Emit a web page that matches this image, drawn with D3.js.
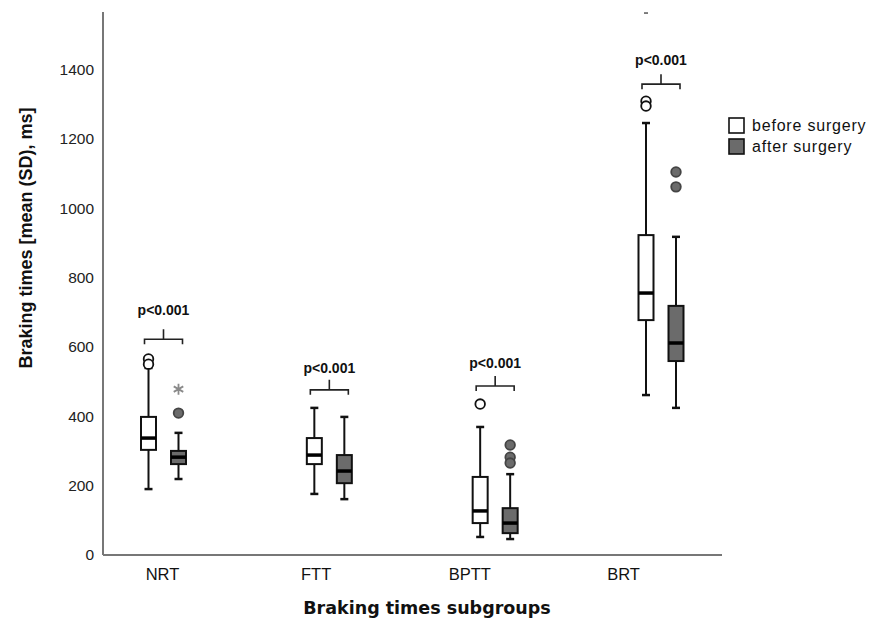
<!DOCTYPE html>
<html>
<head>
<meta charset="utf-8">
<script src="https://cdn.jsdelivr.net/npm/d3@7"></script>
<style>
  body { margin: 0; background: #fff; }
  .tick text { font-family: "Liberation Sans", Arial, sans-serif; }
</style>
</head>
<body>
<div class="chart"></div>
<script>
// chart data
var categories = ["NRT", "FTT", "BPTT", "BRT"];
var groups = ["before surgery", "after surgery"];
var yTicks = [0, 200, 400, 600, 800, 1000, 1200, 1400];

// [lower whisker, q1, median, q3, upper whisker]
var beforeStats = [
  [190, 303, 337, 398, 539],
  [176, 262, 288, 337, 424],
  [52, 92, 127, 225, 369],
  [461, 677, 755, 922, 1245]
];
var afterStats = [
  [219, 262, 282, 300, 352],
  [161, 207, 242, 288, 398],
  [46, 63, 92, 135, 233],
  [424, 559, 611, 718, 917]
];
var beforeOutliers = [[565, 550], [], [435], [1308, 1294]];
var afterOutliers = [[409], [], [317, 282, 265], [1104, 1061]];
var beforeExtremes = [[], [], [], [1562]];
var afterExtremes = [[478], [], [], []];

var pValues = ["p<0.001", "p<0.001", "p<0.001", "p<0.001"];
var bracketLevel = [622, 476, 487, 1357];
var pLabelLevel = [692, 524, 539, 1412];

var svgWidth = 869;
var svgHeight = 624;

var svg = d3.select(".chart")
  .append("svg")
  .attr("width", svgWidth)
  .attr("height", svgHeight);

// scales
var y = d3.scaleLinear().domain([0, 1565]).range([555, 12]);
var xLabel = d3.scalePoint().domain(categories).range([162, 623]);
var xPair = d3.scalePoint().domain(categories).range([163.5, 661]);
var xGroup = d3.scalePoint().domain(groups).range([-15, 15]);
var boxW = 15;
var fills = { "before surgery": "#ffffff", "after surgery": "#6b6b6b" };

// y axis
var yAxis = svg.append("g")
  .attr("transform", "translate(103,0)")
  .call(d3.axisLeft(y).tickValues(yTicks).tickSize(0).tickPadding(9).tickFormat(d3.format("d")));
yAxis.select(".domain").remove();
yAxis.selectAll("text").attr("font-size", 15.5).attr("fill", "#222");

// x axis
var xAxis = svg.append("g")
  .attr("transform", "translate(0,555)")
  .call(d3.axisBottom(xLabel).tickSize(0).tickPadding(13));
xAxis.select(".domain").remove();
xAxis.selectAll("text").attr("font-size", 16.5).attr("fill", "#111");

// axis lines
svg.append("line")
  .attr("x1", 103).attr("x2", 103)
  .attr("y1", y.range()[1]).attr("y2", y(0))
  .attr("stroke", "#777").attr("stroke-width", 2);
svg.append("line")
  .attr("x1", 103).attr("x2", 722)
  .attr("y1", y(0)).attr("y2", y(0))
  .attr("stroke", "#777").attr("stroke-width", 2);

// boxes
var boxData = [];
categories.forEach(function(c, i) {
  boxData.push({ cat: c, group: groups[0], s: beforeStats[i], out: beforeOutliers[i], ext: beforeExtremes[i] });
  boxData.push({ cat: c, group: groups[1], s: afterStats[i], out: afterOutliers[i], ext: afterExtremes[i] });
});

var boxes = svg.selectAll("g.box")
  .data(boxData)
  .enter()
  .append("g")
  .attr("class", "box")
  .attr("transform", d => `translate(${xPair(d.cat) + xGroup(d.group)},0)`);

// whisker
boxes.append("line")
  .attr("x1", 0).attr("x2", 0)
  .attr("y1", d => y(d.s[0])).attr("y2", d => y(d.s[4]))
  .attr("stroke", "#111").attr("stroke-width", 2);
boxes.selectAll("line.cap")
  .data(d => [d.s[0], d.s[4]])
  .enter()
  .append("line")
  .attr("class", "cap")
  .attr("x1", -4).attr("x2", 4)
  .attr("y1", d => y(d)).attr("y2", d => y(d))
  .attr("stroke", "#111").attr("stroke-width", 2.5);

boxes.append("rect")
  .attr("x", -boxW / 2)
  .attr("width", boxW)
  .attr("y", d => y(d.s[3]))
  .attr("height", d => y(d.s[1]) - y(d.s[3]))
  .attr("fill", d => fills[d.group])
  .attr("stroke", "#111")
  .attr("stroke-width", 2);

boxes.append("line")
  .attr("x1", -boxW / 2).attr("x2", boxW / 2)
  .attr("y1", d => y(d.s[2])).attr("y2", d => y(d.s[2]))
  .attr("stroke", "#000").attr("stroke-width", 3.5);

// outliers
boxes.selectAll("circle")
  .data(d => d.out.map(v => ({ v: v, group: d.group })))
  .enter()
  .append("circle")
  .attr("cx", 0)
  .attr("cy", d => y(d.v))
  .attr("r", 4.8)
  .attr("fill", d => d.group === groups[0] ? "#fff" : "#6b6b6b")
  .attr("stroke", d => d.group === groups[0] ? "#111" : "#444")
  .attr("stroke-width", 1.8);

// extremes: asterisk for after surgery, short dash for before surgery
boxes.selectAll("path.ext")
  .data(d => d.ext.map(v => ({ v: v, group: d.group })))
  .enter()
  .append("path")
  .attr("class", "ext")
  .attr("transform", d => `translate(0,${y(d.v)})`)
  .attr("d", function(d) {
    if (d.group === groups[0]) return "M-2,0H2";
    var r = 5.5, p = "";
    [90, 30, 150].forEach(function(a) {
      var dx = r * Math.cos(a * Math.PI / 180), dy = r * Math.sin(a * Math.PI / 180);
      p += `M${-dx},${-dy}L${dx},${dy}`;
    });
    return p;
  })
  .attr("fill", "none")
  .attr("stroke", d => d.group === groups[1] ? "#8a8a8a" : "#555")
  .attr("stroke-width", d => d.group === groups[1] ? 1.8 : 1.5);

// significance brackets
var brackets = svg.selectAll("g.bracket")
  .data(categories)
  .enter()
  .append("g")
  .attr("class", "bracket");

brackets.append("path")
  .attr("d", function(c, i) {
    var x0 = xPair(c) + xGroup(groups[0]) - 4;
    var x1 = xPair(c) + xGroup(groups[1]) + 4;
    var yb = y(bracketLevel[i]);
    var xm = (x0 + x1) / 2;
    return `M${x0},${yb + 5}V${yb}H${x1}V${yb + 5}M${xm},${yb}V${yb - 10}`;
  })
  .attr("fill", "none")
  .attr("stroke", "#222")
  .attr("stroke-width", 1.6);

brackets.append("text")
  .attr("x", c => xPair(c))
  .attr("y", (c, i) => y(pLabelLevel[i]))
  .attr("text-anchor", "middle")
  .attr("font-family", "Liberation Sans, Arial, sans-serif")
  .attr("font-weight", "bold")
  .attr("font-size", 14)
  .attr("fill", "#111")
  .text((c, i) => pValues[i]);

// legend
var legend = svg.selectAll("g.legend")
  .data(groups)
  .enter()
  .append("g")
  .attr("class", "legend")
  .attr("transform", (d, i) => `translate(729,${118 + i * 21})`);
legend.append("rect")
  .attr("width", 15).attr("height", 15)
  .attr("fill", d => fills[d])
  .attr("stroke", "#111").attr("stroke-width", 1.6);
legend.append("text")
  .attr("x", 23).attr("y", 13)
  .attr("font-family", "Liberation Sans, Arial, sans-serif")
  .attr("font-size", 16)
  .attr("letter-spacing", 0.8)
  .attr("fill", "#111")
  .text(d => d);

// axis titles
svg.append("text")
  .attr("transform", "translate(32,238) rotate(-90)")
  .attr("text-anchor", "middle")
  .attr("font-family", "Liberation Sans, Arial, sans-serif")
  .attr("font-weight", "bold")
  .attr("font-size", 18)
  .attr("fill", "#111")
  .text("Braking times [mean (SD), ms]");

svg.append("text")
  .attr("x", 427)
  .attr("y", 614)
  .attr("text-anchor", "middle")
  .attr("font-family", "DejaVu Sans, sans-serif")
  .attr("font-weight", "bold")
  .attr("font-size", 17.5)
  .attr("fill", "#111")
  .text("Braking times subgroups");
</script>
</body>
</html>
